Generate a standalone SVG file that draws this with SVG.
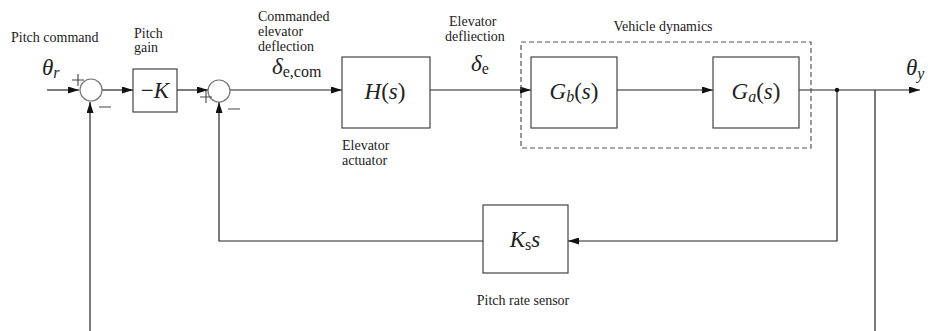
<svg xmlns="http://www.w3.org/2000/svg" width="928" height="331" viewBox="0 0 928 331">
<style>
.lbl{font-family:"Liberation Serif","Times New Roman","DejaVu Serif",serif;font-size:14px;fill:#222}
.m{font-family:"Liberation Serif","Times New Roman","DejaVu Serif",serif;font-size:23px;fill:#222}
.i{font-style:italic}
.sub{font-size:16px}
.box{fill:#fff;stroke:#444;stroke-width:1.2}
.sum{fill:#fff;stroke:#777;stroke-width:1.2}
.ln{fill:none;stroke:#222;stroke-width:1.2}
.sg{fill:none;stroke:#444;stroke-width:1.1}
</style>
<defs>
<marker id="ah" markerWidth="11" markerHeight="7" refX="11" refY="3.5" orient="auto" markerUnits="userSpaceOnUse">
<path d="M0,0 L11,3.5 L0,7 z" fill="#111"/>
</marker>
</defs>
<g id="connectors">
<path class="ln" d="M47,90 L79,90" marker-end="url(#ah)"/>
<path class="ln" d="M102,90 L133,90" marker-end="url(#ah)"/>
<path class="ln" d="M177,90 L208,90" marker-end="url(#ah)"/>
<path class="ln" d="M230,90 L342,90" marker-end="url(#ah)"/>
<path class="ln" d="M430,90 L531,90" marker-end="url(#ah)"/>
<path class="ln" d="M617,90 L713,90" marker-end="url(#ah)"/>
<path class="ln" d="M799,90 L920,90" marker-end="url(#ah)"/>
<path class="ln" d="M837,90 L837,241 L568,241" marker-end="url(#ah)"/>
<path class="ln" d="M483,241 L219,241 L219,102" marker-end="url(#ah)"/>
<path class="ln" d="M875,90 L875,331" stroke="#555"/>
<path class="ln" d="M90,331 L90,102" marker-end="url(#ah)"/>
<circle cx="837" cy="90" r="2.2" fill="#111"/>
</g>
<g id="labels">
<text class="lbl" x="11" y="42">Pitch command</text>
<text class="lbl" x="134" y="38">Pitch<tspan x="134" dy="14">gain</tspan></text>
<text class="lbl" x="258" y="21">Commanded<tspan x="258" dy="15">elevator</tspan><tspan x="258" dy="15">deflection</tspan></text>
<text class="lbl" x="449" y="26">Elevator<tspan x="445" dy="15">defliection</tspan></text>
<text class="lbl" x="663" y="31" text-anchor="middle">Vehicle dynamics</text>
<text class="lbl" x="342" y="150">Elevator<tspan x="342" dy="15">actuator</tspan></text>
<text class="lbl" x="523" y="305" text-anchor="middle">Pitch rate sensor</text>
<text class="m" x="42" y="75"><tspan class="i">θ</tspan><tspan class="sub i" dy="3">r</tspan></text>
<text class="m" x="272" y="74"><tspan class="i">δ</tspan><tspan class="sub" dy="3">e,com</tspan></text>
<text class="m" x="471" y="71"><tspan class="i">δ</tspan><tspan class="sub" dy="3">e</tspan></text>
<text class="m" x="906" y="75"><tspan class="i">θ</tspan><tspan class="sub i" dy="4">y</tspan></text>
</g>
<g id="sum1">
<circle class="sum" cx="91" cy="90" r="11"/>
<path class="sg" d="M72,80 H84 M78,74 V86 M99,107 H111"/>
</g>
<g id="gainK">
<rect class="box" x="133" y="69" width="44" height="43"/>
<text class="m" x="155" y="98" text-anchor="middle">−<tspan class="i">K</tspan></text>
</g>
<g id="sum2">
<circle class="sum" cx="219" cy="91" r="11"/>
<path class="sg" d="M200,97 H212 M206,91 V103 M228,109 H240"/>
</g>
<g id="H">
<rect class="box" x="342" y="57" width="88" height="71"/>
<text class="m" x="385" y="99" text-anchor="middle"><tspan class="i">H</tspan>(<tspan class="i">s</tspan>)</text>
</g>
<g id="vehicle">
<rect x="521" y="42" width="290" height="106" fill="none" stroke="#555" stroke-width="1.2" stroke-dasharray="5,3"/>
</g>
<g id="Gb">
<rect class="box" x="531" y="57" width="86" height="71"/>
<text class="m" x="574" y="99" text-anchor="middle"><tspan class="i">G</tspan><tspan class="sub i" dy="3">b</tspan><tspan dy="-3">(</tspan><tspan class="i">s</tspan>)</text>
</g>
<g id="Ga">
<rect class="box" x="713" y="57" width="86" height="71"/>
<text class="m" x="756" y="99" text-anchor="middle"><tspan class="i">G</tspan><tspan class="sub i" dy="3">a</tspan><tspan dy="-3">(</tspan><tspan class="i">s</tspan>)</text>
</g>
<g id="Ks">
<rect class="box" x="483" y="205" width="85" height="68"/>
<text class="m" x="525" y="247" text-anchor="middle"><tspan class="i">K</tspan><tspan class="sub" dy="3">s</tspan><tspan class="i" dy="-3">s</tspan></text>
</g>
</svg>
